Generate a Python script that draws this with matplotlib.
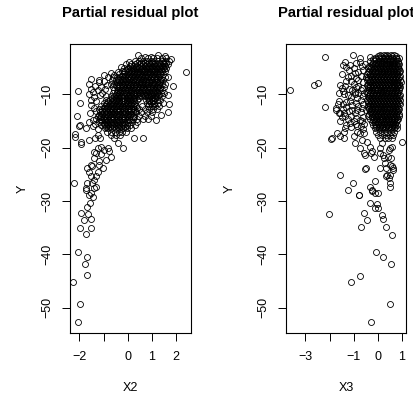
"""
Two partial residual plots (Y against X2 and X3), drawn in the R base-graphics look.
"""

import matplotlib

matplotlib.use("Agg")
import matplotlib.pyplot as plt  # noqa: E402

plt.rcParams["font.family"] = ["Liberation Sans", "DejaVu Sans"]

TITLE = "Partial residual plot"

# --- left panel: Y against X2 -------------------------------------------------
left_sparse = [
    (-1.74, -28.0), (-1.53, -28.4), (-1.60, -28.8), (-1.39, -27.5), (-1.55, -30.3),
    (-1.67, -31.2), (-1.92, -32.2), (-1.64, -32.4), (-1.83, -33.6), (-1.50, -33.4),
    (-1.97, -35.0), (-1.50, -35.0), (-1.74, -36.2), (-2.05, -39.5), (-1.67, -40.5),
    (-1.78, -41.7), (-1.67, -43.9), (-2.25, -45.2), (-1.97, -49.2), (-2.05, -52.6),
    (-1.25, -20.1), (-1.11, -19.8), (-0.97, -20.4), (-0.83, -20.1), (-0.70, -21.7),
    (-1.39, -22.0), (-1.46, -23.5), (-1.67, -23.8), (-1.53, -23.2), (-1.18, -23.2),
    (-1.04, -23.8), (-1.32, -25.4), (-1.53, -25.4), (-1.39, -26.0), (-1.67, -26.6),
    (-1.46, -26.6), (-1.32, -27.3), (-2.22, -26.6), (-1.74, -27.6), (-1.30, -21.0),
    (-1.20, -22.5), (-0.90, -22.3), (-1.60, -24.5), (-1.25, -24.6), (-1.45, -29.2),
    (-1.10, -21.2), (-1.40, -20.8),
    (-2.04, -9.4), (-1.96, -11.6), (-2.10, -14.1), (-2.00, -16.0), (-2.20, -17.4),
    (-2.17, -18.0), (-1.92, -19.3), (-1.95, -18.9), (-1.97, -15.7), (-1.74, -16.4),
    (-1.60, -18.5),
    (2.43, -5.8), (1.67, -6.8), (1.88, -8.4), (1.67, -10.2), (1.72, -11.8),
    (1.67, -13.3), (1.38, -13.9), (1.17, -14.8), (0.28, -18.2), (0.63, -18.2),
    (-0.21, -20.1), (-0.42, -19.2), (-0.76, -20.6),
    (0.42, -2.7), (0.70, -3.0), (0.97, -3.0), (1.25, -2.7), (1.53, -2.8), (1.80, -3.35),
    (-0.28, -4.9), (-0.07, -4.3), (0.07, -4.0), (-1.18, -7.4), (-0.97, -6.4),
    (-0.83, -6.8), (-0.70, -6.1), (-0.56, -6.4), (-0.42, -5.8), (-1.53, -7.2),
    (-1.60, -8.0), (-1.53, -8.95),
    (-1.45, -9.6), (-1.35, -8.5), (-1.25, -9.2), (-1.20, -7.8), (-1.10, -8.6),
    (-1.00, -7.5), (-0.95, -9.0), (-0.85, -8.2), (-1.40, -10.6), (-1.30, -11.2),
    (-1.15, -10.2), (-1.05, -9.8), (-0.90, -10.4), (-1.50, -12.0), (-1.40, -12.6),
    (-1.30, -13.2), (-1.55, -13.6), (-1.45, -14.8), (-1.50, -11.0), (-1.60, -10.0),
    (-1.35, -15.6), (-1.25, -16.5), (-1.45, -16.0), (-1.60, -15.2), (-1.20, -13.8),
]

# dense part of the X2 cloud, one row of X2 values per Y level
left_core = [
    (-3.3, [0.55, 0.85, 1.05, 1.2, 1.4, 1.6]),
    (-3.8, [0.3, 0.45, 0.65, 0.8, 0.95, 1.1, 1.25, 1.4, 1.55, 1.7]),
    (-4.1, [0.38, 0.55, 0.72, 0.88, 1.02, 1.15, 1.3, 1.45, 1.6]),
    (-4.4, [0.15, 0.3, 0.5, 0.62, 0.78, 0.92, 1.08, 1.22, 1.35, 1.5, 1.65]),
    (-4.7, [0.08, 0.25, 0.4, 0.55, 0.7, 0.85, 1.0, 1.15, 1.28, 1.42, 1.56]),
    (-5.0, [-0.15, 0.0, 0.2, 0.35, 0.48, 0.6, 0.75, 0.9, 1.02, 1.18, 1.3, 1.45, 1.6]),
    (-5.3, [-0.05, 0.12, 0.27, 0.4, 0.53, 0.67, 0.8, 0.95, 1.08, 1.22, 1.36, 1.5]),
    (-5.6, [-0.25, -0.1, 0.05, 0.18, 0.32, 0.45, 0.6, 0.72, 0.88, 1.0, 1.15, 1.28, 1.42, 1.55]),
    (-5.9, [-0.15, 0.0, 0.12, 0.25, 0.4, 0.52, 0.66, 0.8, 0.94, 1.08, 1.22, 1.35]),
    (-6.2, [-0.35, -0.2, -0.05, 0.1, 0.22, 0.38, 0.5, 0.65, 0.8, 0.92, 1.05, 1.2, 1.35, 1.48]),
    (-6.5, [-0.25, -0.1, 0.05, 0.18, 0.32, 0.45, 0.58, 0.72, 0.86, 1.0, 1.14, 1.28]),
    (-6.8, [-0.6, -0.45, -0.3, -0.15, 0.0, 0.12, 0.28, 0.42, 0.55, 0.7, 0.85, 0.98, 1.1, 1.25, 1.4, 1.55]),
    (-7.1, [-0.4, -0.25, -0.1, 0.05, 0.2, 0.35, 0.5, 0.65, 0.8, 0.95, 1.08, 1.22, 1.38]),
    (-7.4, [-0.65, -0.5, -0.35, -0.2, -0.08, 0.05, 0.2, 0.35, 0.48, 0.62, 0.75, 0.9, 1.02, 1.18, 1.32, 1.45]),
    (-7.7, [-0.45, -0.28, -0.12, 0.02, 0.18, 0.32, 0.45, 0.6, 0.75, 0.9, 1.05, 1.2, 1.35]),
    (-8.0, [-0.7, -0.55, -0.4, -0.25, -0.12, 0.02, 0.15, 0.3, 0.45, 0.58, 0.72, 0.85, 1.0, 1.12, 1.28, 1.4, 1.55]),
    (-8.3, [-0.5, -0.35, -0.2, -0.05, 0.08, 0.22, 0.36, 0.5, 0.65, 0.8, 0.95, 1.1, 1.25]),
    (-8.6, [-0.6, -0.45, -0.3, -0.18, -0.05, 0.1, 0.25, 0.38, 0.5, 0.65, 0.8, 0.92, 1.05, 1.2, 1.35, 1.5]),
    (-8.9, [-0.4, -0.25, -0.1, 0.05, 0.2, 0.35, 0.5, 0.62, 0.78, 0.92, 1.06, 1.2, 1.35]),
    (-9.2, [-0.55, -0.4, -0.28, -0.12, 0.0, 0.15, 0.3, 0.42, 0.58, 0.7, 0.85, 1.0, 1.12, 1.28, 1.42]),
    (-9.5, [-0.45, -0.3, -0.15, 0.0, 0.15, 0.3, 0.45, 0.6, 0.75, 0.9, 1.05, 1.2]),
    (-9.8, [-0.6, -0.45, -0.3, -0.15, -0.02, 0.12, 0.25, 0.4, 0.52, 0.68, 0.8, 0.95, 1.08, 1.22, 1.38, 1.52]),
    (-10.1, [-0.5, -0.35, -0.2, -0.05, 0.1, 0.25, 0.4, 0.55, 0.7, 0.85, 1.0, 1.15, 1.3]),
    (-10.4, [-0.7, -0.55, -0.42, -0.28, -0.15, 0.0, 0.15, 0.28, 0.42, 0.55, 0.7, 0.85, 0.98, 1.12, 1.25, 1.4]),
    (-10.7, [-0.65, -0.5, -0.35, -0.2, -0.05, 0.1, 0.25, 0.45, 0.85, 1.0, 1.15]),
    (-11.0, [-0.9, -0.75, -0.6, -0.48, -0.35, -0.2, -0.05, 0.1, 0.22, 0.38, 0.75, 0.9, 1.05, 1.2, 1.35]),
    (-11.3, [-0.8, -0.65, -0.5, -0.35, -0.2, -0.05, 0.1, 0.25, 0.9, 1.05]),
    (-11.6, [-1.0, -0.85, -0.7, -0.55, -0.42, -0.28, -0.12, 0.0, 0.15, 0.3, 0.8, 0.95, 1.1, 1.25, 1.45]),
    (-11.9, [-0.9, -0.75, -0.6, -0.45, -0.3, -0.15, 0.0, 0.12, 0.28, 0.9, 1.1]),
    (-12.2, [-1.1, -0.95, -0.8, -0.65, -0.5, -0.35, -0.22, -0.08, 0.05, 0.2, 0.35, 0.6, 0.85, 1.0, 1.15, 1.3]),
    (-12.5, [-1.0, -0.85, -0.7, -0.55, -0.4, -0.25, -0.1, 0.05, 0.2, 0.4]),
    (-12.8, [-1.2, -1.05, -0.9, -0.75, -0.6, -0.45, -0.3, -0.15, 0.0, 0.12, 0.28, 0.45, 0.7, 0.9, 1.05, 1.2]),
    (-13.1, [-1.05, -0.9, -0.75, -0.6, -0.45, -0.3, -0.15, 0.0, 0.15, 0.3]),
    (-13.4, [-1.15, -1.0, -0.85, -0.7, -0.55, -0.4, -0.25, -0.1, 0.05, 0.2, 0.35, 0.55, 0.8, 1.0]),
    (-13.7, [-1.05, -0.9, -0.75, -0.6, -0.45, -0.3, -0.15, 0.0, 0.15]),
    (-14.0, [-1.25, -1.1, -0.95, -0.8, -0.65, -0.5, -0.35, -0.2, -0.05, 0.1, 0.25, 0.45, 0.7, 0.95]),
    (-14.3, [-1.15, -1.0, -0.85, -0.7, -0.55, -0.4, -0.25, -0.1, 0.05, 0.2]),
    (-14.6, [-1.3, -1.15, -1.0, -0.85, -0.7, -0.55, -0.4, -0.25, -0.1, 0.05, 0.2, 0.4, 0.65, 0.85]),
    (-14.9, [-1.1, -0.95, -0.8, -0.65, -0.5, -0.35, -0.2, -0.05, 0.1]),
    (-15.2, [-1.2, -1.05, -0.9, -0.75, -0.6, -0.45, -0.3, -0.15, 0.0, 0.18, 0.4]),
    (-15.5, [-1.0, -0.85, -0.7, -0.55, -0.4, -0.25, -0.1]),
    (-15.8, [-1.1, -0.95, -0.8, -0.65, -0.5, -0.35, -0.2, -0.05, 0.1, 0.3]),
    (-16.1, [-0.88, -0.72, -0.58, -0.42, -0.28, -0.12]),
    (-16.4, [-0.95, -0.8, -0.65, -0.5, -0.35, -0.2, -0.05, 0.12]),
    (-17.0, [-0.85, -0.68, -0.52, -0.38, -0.22, -0.08]),
    (-17.6, [-1.25, -0.7, -0.5, -0.3]),
    (-18.2, [-1.35, -1.15, -0.55]),
]

# --- right panel: Y against X3 ------------------------------------------------
right_sparse = [
    (-3.63, -9.2), (-2.17, -3.0), (-2.66, -8.3), (-2.48, -7.9), (-2.17, -12.3),
    (-1.90, -18.2), (-1.72, -12.6), (-1.62, -13.6), (-1.69, -17.3), (-1.55, -17.8),
    (-1.41, -17.0), (-1.34, -16.4), (-1.41, -18.2), (-1.58, -25.1), (-1.02, -26.6),
    (-1.23, -27.9), (-0.79, -28.8), (-0.51, -24.0), (-0.31, -27.3), (-0.10, -26.3),
    (-0.24, -28.2), (-0.10, -28.5), (0.00, -28.4), (0.46, -25.7), (0.50, -27.3),
    (0.39, -25.1), (0.59, -23.5), (0.66, -24.1), (0.32, -22.9), (1.00, -19.0),
    (0.59, -19.8), (0.46, -20.4), (0.25, -22.0), (0.18, -19.2), (0.11, -21.0),
    (-0.44, -18.9), (-0.31, -19.8), (-0.24, -20.7), (-0.17, -21.7), (-0.93, -19.2),
    (-0.72, -20.1), (-0.58, -21.0), (-0.65, -18.5), (-1.00, -17.9), (-0.86, -17.0),
    (-0.72, -17.3),
    (-2.01, -32.4), (-0.31, -30.3), (-0.03, -30.5), (-0.10, -31.3), (0.00, -31.3),
    (-0.58, -32.2), (-0.44, -33.6), (-0.68, -34.9), (0.18, -32.7), (0.21, -33.4),
    (0.36, -34.9), (0.59, -36.3), (-0.07, -39.6), (0.21, -40.5), (0.56, -41.8),
    (-0.72, -44.0), (-1.11, -45.1), (0.52, -49.3), (-0.27, -52.7),
    (-1.92, -18.4), (-0.54, -21.3), (-0.27, -21.0), (0.08, -20.1), (0.22, -21.3),
    (0.50, -20.1), (0.43, -21.7), (0.56, -22.0), (0.50, -23.2), (0.63, -23.8),
    (0.36, -23.8), (0.08, -23.8), (-0.47, -23.8), (0.50, -25.1), (0.36, -25.4),
    (0.50, -26.6), (0.98, -7.8), (-0.78, -28.8), (-0.22, -28.0),
    (-1.02, -2.7), (-0.75, -3.2), (-1.37, -4.0), (-1.44, -4.6), (-1.30, -4.9),
    (-0.33, -3.0), (-0.54, -4.3),
    (-1.58, -8.2), (-1.65, -11.8), (-1.72, -13.0), (-1.58, -13.6),
    (-1.20, -5.5), (-1.00, -5.0), (-0.80, -5.8), (-0.65, -4.8), (-1.10, -6.5),
    (-0.90, -7.0), (-0.70, -6.6), (-1.30, -7.5), (-1.00, -8.0), (-0.80, -8.4),
    (-0.60, -7.8), (-1.50, -8.8), (-1.20, -9.0), (-0.95, -9.5), (-0.70, -9.2),
    (-1.40, -10.0), (-1.10, -10.5), (-0.85, -10.8), (-0.60, -10.4), (-1.60, -11.2),
    (-1.30, -11.5), (-1.05, -12.0), (-0.80, -12.2), (-0.60, -11.8), (-1.45, -12.8),
    (-1.20, -13.2), (-0.95, -13.6), (-0.70, -13.4), (-1.50, -14.2), (-1.25, -14.6),
    (-1.00, -15.0), (-0.75, -14.8), (-0.55, -15.5), (-1.30, -15.8), (-1.10, -16.2),
    (-0.85, -16.0), (-0.60, -16.6), (-0.50, -13.0), (-0.55, -9.8), (-0.50, -6.8),
    (-1.50, -6.2), (-1.55, -15.0), (-1.40, -13.5), (-0.90, -4.2),
    (-1.15, -4.5), (-0.75, -4.0), (-0.60, -5.5), (-0.95, -6.0), (-1.25, -6.8),
    (-0.80, -7.3), (-1.10, -7.6), (-0.65, -8.8), (-0.90, -8.6), (-1.35, -8.5),
    (-1.05, -9.2), (-0.80, -9.8), (-1.25, -10.2), (-0.95, -10.0), (-0.70, -11.0),
    (-1.45, -11.8), (-1.15, -11.2), (-0.90, -11.6), (-0.65, -12.6), (-1.30, -12.4),
    (-1.05, -13.0), (-0.85, -13.0), (-0.60, -14.2), (-1.35, -14.0), (-1.10, -14.0),
    (-0.90, -14.4), (-0.65, -15.0), (-1.15, -15.4), (-0.90, -15.6), (-0.70, -16.0),
    (-0.55, -17.2), (-1.45, -9.4), (-1.60, -9.8),
]

# dense part of the X3 cloud, one row of X3 values per Y level
right_core = [
    (-2.6, [0.1, 0.25, 0.4, 0.55, 0.7]),
    (-2.9, [0.0, 0.15, 0.3, 0.45, 0.6, 0.75]),
    (-3.2, [-0.1, 0.05, 0.2, 0.32, 0.45, 0.6, 0.75, 0.88]),
    (-3.5, [-0.2, -0.05, 0.1, 0.25, 0.38, 0.52, 0.66, 0.8]),
    (-3.8, [-0.3, -0.15, 0.0, 0.12, 0.25, 0.38, 0.5, 0.62, 0.75, 0.85]),
    (-4.1, [-0.2, -0.05, 0.08, 0.2, 0.33, 0.46, 0.58, 0.7, 0.84]),
    (-4.4, [-0.25, -0.1, 0.02, 0.15, 0.28, 0.4, 0.52, 0.65, 0.78, 0.9]),
    (-4.7, [-0.35, -0.2, -0.05, 0.08, 0.2, 0.33, 0.46, 0.58, 0.7, 0.84]),
    (-5.0, [-0.4, -0.28, -0.15, -0.02, 0.1, 0.22, 0.35, 0.48, 0.6, 0.72, 0.85]),
    (-5.3, [-0.3, -0.15, 0.0, 0.12, 0.25, 0.38, 0.5, 0.62, 0.75, 0.88]),
    (-5.6, [-0.35, -0.22, -0.1, 0.05, 0.18, 0.3, 0.42, 0.55, 0.68, 0.8, 0.92]),
    (-5.9, [-0.4, -0.25, -0.12, 0.02, 0.14, 0.27, 0.4, 0.52, 0.64, 0.76, 0.88]),
    (-6.2, [-0.45, -0.3, -0.18, -0.05, 0.08, 0.2, 0.33, 0.45, 0.58, 0.7, 0.82]),
    (-6.5, [-0.32, -0.18, -0.05, 0.06, 0.18, 0.3, 0.43, 0.56, 0.68, 0.8, 0.92]),
    (-6.8, [-0.4, -0.25, -0.12, 0.0, 0.12, 0.25, 0.38, 0.5, 0.62, 0.75, 0.88]),
    (-7.1, [-0.38, -0.24, -0.1, 0.02, 0.14, 0.26, 0.38, 0.5, 0.62, 0.74, 0.86]),
    (-7.4, [-0.45, -0.32, -0.2, -0.08, 0.05, 0.18, 0.3, 0.42, 0.55, 0.68, 0.8, 0.92]),
    (-7.7, [-0.3, -0.16, -0.03, 0.1, 0.22, 0.34, 0.46, 0.58, 0.7, 0.82]),
    (-8.0, [-0.38, -0.25, -0.12, 0.0, 0.13, 0.25, 0.38, 0.5, 0.63, 0.75, 0.87]),
    (-8.3, [-0.45, -0.32, -0.2, -0.06, 0.06, 0.18, 0.3, 0.43, 0.56, 0.68, 0.8, 0.9]),
    (-8.6, [-0.42, -0.3, -0.18, -0.05, 0.08, 0.2, 0.32, 0.45, 0.58, 0.7, 0.82, 0.93]),
    (-8.9, [-0.36, -0.22, -0.1, 0.03, 0.15, 0.27, 0.4, 0.52, 0.64, 0.76, 0.88]),
    (-9.2, [-0.35, -0.22, -0.1, 0.02, 0.15, 0.28, 0.4, 0.52, 0.65, 0.78, 0.9]),
    (-9.5, [-0.4, -0.26, -0.13, 0.0, 0.12, 0.24, 0.36, 0.48, 0.6, 0.72, 0.85]),
    (-9.8, [-0.45, -0.3, -0.18, -0.05, 0.08, 0.2, 0.33, 0.45, 0.58, 0.7, 0.82]),
    (-10.1, [-0.32, -0.2, -0.06, 0.06, 0.18, 0.3, 0.43, 0.56, 0.68, 0.8, 0.92]),
    (-10.4, [-0.4, -0.25, -0.12, 0.0, 0.12, 0.25, 0.38, 0.5, 0.62, 0.75, 0.88]),
    (-10.7, [-0.35, -0.22, -0.1, 0.03, 0.15, 0.28, 0.4, 0.52, 0.64, 0.76, 0.88]),
    (-11.0, [-0.45, -0.32, -0.2, -0.08, 0.05, 0.18, 0.3, 0.42, 0.55, 0.68, 0.8, 0.92]),
    (-11.3, [-0.4, -0.28, -0.14, -0.02, 0.1, 0.22, 0.35, 0.48, 0.6, 0.72, 0.84]),
    (-11.6, [-0.38, -0.25, -0.12, 0.0, 0.13, 0.25, 0.38, 0.5, 0.63, 0.75, 0.87]),
    (-11.9, [-0.32, -0.18, -0.06, 0.07, 0.2, 0.32, 0.44, 0.56, 0.68, 0.8, 0.92]),
    (-12.2, [-0.42, -0.3, -0.18, -0.05, 0.08, 0.2, 0.32, 0.45, 0.58, 0.7, 0.82]),
    (-12.5, [-0.36, -0.24, -0.12, 0.0, 0.12, 0.25, 0.38, 0.5, 0.62, 0.74, 0.86]),
    (-12.8, [-0.35, -0.22, -0.1, 0.02, 0.15, 0.28, 0.4, 0.52, 0.65, 0.78, 0.9]),
    (-13.1, [-0.28, -0.15, -0.02, 0.1, 0.22, 0.35, 0.48, 0.6, 0.72, 0.84]),
    (-13.4, [-0.3, -0.18, -0.05, 0.08, 0.2, 0.33, 0.45, 0.58, 0.7, 0.82]),
    (-13.7, [-0.35, -0.22, -0.1, 0.03, 0.15, 0.27, 0.4, 0.52, 0.64, 0.76, 0.88]),
    (-14.0, [-0.4, -0.25, -0.12, 0.0, 0.12, 0.25, 0.38, 0.5, 0.62, 0.75, 0.88]),
    (-14.3, [-0.22, -0.08, 0.05, 0.18, 0.3, 0.42, 0.55, 0.68, 0.8]),
    (-14.6, [-0.3, -0.15, -0.02, 0.1, 0.22, 0.35, 0.48, 0.6, 0.72, 0.85]),
    (-14.9, [-0.18, -0.05, 0.08, 0.2, 0.33, 0.46, 0.58, 0.7, 0.82]),
    (-15.2, [-0.25, -0.1, 0.03, 0.15, 0.28, 0.4, 0.52, 0.65, 0.78]),
    (-15.5, [-0.12, 0.02, 0.14, 0.26, 0.38, 0.5, 0.62, 0.74]),
    (-15.8, [-0.2, -0.05, 0.08, 0.2, 0.33, 0.45, 0.58, 0.7, 0.82]),
    (-16.1, [-0.05, 0.1, 0.24, 0.36, 0.48, 0.6, 0.72]),
    (-16.4, [-0.1, 0.05, 0.18, 0.3, 0.42, 0.55, 0.68, 0.8]),
    (-17.0, [-0.05, 0.1, 0.25, 0.4, 0.55, 0.7]),
    (-17.6, [0.0, 0.2, 0.35, 0.5, 0.65]),
    (-18.2, [0.1, 0.3, 0.45, 0.6]),
]

Y_TICKS = [-50, -40, -30, -20, -10]
X2_TICKS = [-2, -1, 0, 1, 2]
X2_LABELS = ["\u22122", "", "0", "1", "2"]
X3_TICKS = [-3, -2, -1, 0, 1]
X3_LABELS = ["\u22123", "", "\u22121", "0", "1"]


def _points(sparse, core):
    xs = [p[0] for p in sparse]
    ys = [p[1] for p in sparse]
    for y, row in core:
        xs.extend(row)
        ys.extend([y] * len(row))
    return xs, ys


def _panel(ax, xs, ys, xlim, xticks, xlabels):
    ax.plot(xs, ys, linestyle="none", marker="o", markersize=4.3,
            markerfacecolor="none", markeredgecolor="black", markeredgewidth=0.6)
    ax.set_xlim(*xlim)
    ax.set_ylim(-54.7, -0.6)
    ax.set_xticks(xticks, xlabels)
    ax.set_yticks(Y_TICKS, ["\u2212" + str(-v) for v in Y_TICKS])
    ax.tick_params(axis="both", direction="out", length=5.8, width=0.7,
                   labelsize=9, color="black")
    ax.tick_params(axis="x", pad=7)
    ax.tick_params(axis="y", pad=6)
    for lab in ax.get_yticklabels():
        lab.set_rotation(90)
        lab.set_va("center")
    for sp in ax.spines.values():
        sp.set_linewidth(0.8)


fig = plt.figure(figsize=(4.14, 3.99), dpi=100)
W, H = 414, 399
ax1 = fig.add_axes([70 / W, 1 - 333 / H, 121 / W, 289 / H])
ax2 = fig.add_axes([286 / W, 1 - 333 / H, 120 / W, 289 / H])

x2, y_left = _points(left_sparse, left_core)
x3, y_right = _points(right_sparse, right_core)
_panel(ax1, x2, y_left, (-2.39, 2.62), X2_TICKS, X2_LABELS)
_panel(ax2, x3, y_right, (-3.81, 1.18), X3_TICKS, X3_LABELS)

for cx, xlab, ycx in [(130.5, "X2", 23), (346, "X3", 230)]:
    fig.text(cx / W, 1 - 13.3 / H, TITLE, ha="center", va="center",
             fontsize=10.6, fontweight="bold")
    fig.text(cx / W, 1 - 388 / H, xlab, ha="center", va="center", fontsize=9)
    fig.text(ycx / W, 1 - 189 / H, "Y", ha="center", va="center", fontsize=9,
             rotation=90)

fig.savefig("out.png", dpi=100)
plt.close(fig)
